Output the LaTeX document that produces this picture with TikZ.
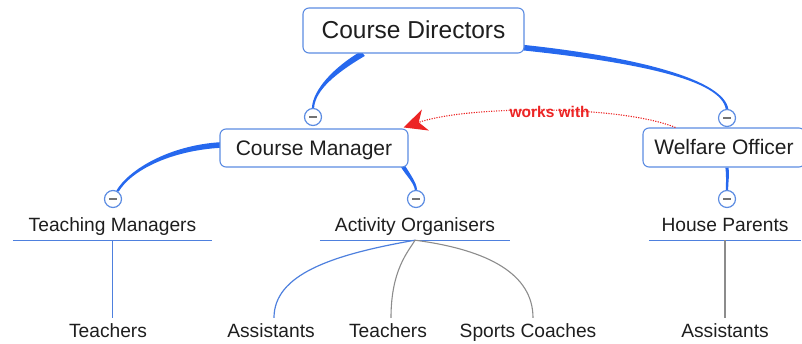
\documentclass[tikz,border=0pt]{standalone}
\usepackage{fontspec}
\setmainfont{Liberation Sans}
\usetikzlibrary{calc,arrows.meta}

\definecolor{branchblue}{RGB}{38,104,238}
\definecolor{boxblue}{RGB}{92,140,226}
\definecolor{lineblue}{RGB}{78,128,222}
\definecolor{leafgray}{RGB}{140,140,140}
\definecolor{relred}{RGB}{236,36,36}
\definecolor{inkc}{RGB}{30,30,30}

\pgfdeclarelayer{background}
\pgfsetlayers{background,main}

% tapered branch: #1 style, #2 start, #3/#4 controls, #5 end,
% #6 half-width offset at the start, #7 half-width offset at the end
\newcommand\taperedbranch[7]{%
  \fill[#1] ($(#2)+(#6)$) .. controls ($(#3)+(#6)$) and ($(#4)+(#7)$) .. ($(#5)+(#7)$)
    -- ($(#5)-(#7)$) .. controls ($(#4)-(#7)$) and ($(#3)-(#6)$) .. ($(#2)-(#6)$) -- cycle;}

\tikzset{
  topic/.style={draw=boxblue, line width=1.1pt, rounded corners=6pt, fill=white,
    inner sep=0pt, text=inkc, text depth=0pt},
  toggle/.style={circle, draw=boxblue, line width=1.2pt, fill=white, minimum size=17pt,
    inner sep=0pt,
    path picture={\draw[gray!90!black, line width=1.3pt]
      ([xshift=-3.8pt]path picture bounding box.center) --
      ([xshift=3.8pt]path picture bounding box.center);}},
  subtopic/.style={anchor=base, inner xsep=0pt, inner ysep=4pt, text height=14pt,
    text depth=4pt, text=inkc, font=\fontsize{19.2}{22}\selectfont},
  leaf/.style={anchor=base, inner xsep=1pt, inner ysep=5pt, text height=14pt,
    text depth=4pt, text=inkc, font=\fontsize{19.2}{22}\selectfont},
  branch/.style={fill=branchblue},
  uline/.style={draw=lineblue, line width=1.2pt},
  bluelink/.style={draw=lineblue, line width=1.2pt},
  graylink/.style={draw=leafgray, line width=1.1pt},
  relation/.style={draw=relred, line width=1.1pt, dash pattern=on 1.2pt off 1.3pt,
    -{Stealth[length=23pt, width=22pt, inset=7pt]}},
}

\begin{document}
\begin{tikzpicture}[x=1pt, y=-1pt]
\useasboundingbox (0,0) rectangle (802,344);

% main topics
\node[topic, minimum width=221pt, minimum height=45pt, text height=17pt,
      font=\fontsize{24.5}{28}\selectfont] (cd) at (413.5,30.5) {Course Directors};
\node[topic, minimum width=188pt, minimum height=38pt, text height=15pt,
      font=\fontsize{21}{25}\selectfont] (cm) at (314,148) {Course Manager};
\node[topic, minimum width=162pt, minimum height=39pt, text height=15pt,
      font=\fontsize{21}{25}\selectfont] (wo) at (724,147.5) {Welfare Officer};

% collapse toggles at the ends of the main branches
\node[toggle] (cmc) at (313,117) {};
\node[toggle] (woc) at (727,118) {};
\node[toggle] (tmc) at (113,199) {};
\node[toggle] (aoc) at (416,199) {};
\node[toggle] (hpc) at (727,199) {};

% branch start points on the topic boxes
\coordinate (cdA) at ($(cd.south)+(-50.5,0)$);
\coordinate (cdB) at ($(cd.south east)+(-2,-6)$);
\coordinate (cmA) at ($(cm.west)+(1,-3)$);
\coordinate (cmB) at ($(cm.south east)+(-6,-2)$);
\coordinate (woA) at (wo.south -| hpc);

% tapered branches, beneath the boxes and toggles
\begin{pgfonlayer}{background}
\taperedbranch{branch}{cdA}{335,70}{314,90}{cmc.north}{-1.8,-2.4}{-1.1,0}
\taperedbranch{branch}{cdB}{640,60}{722,80}{woc.north}{0,2.8}{-1.3,0}
\taperedbranch{branch}{cmA}{170,148}{130,170}{tmc.60}{0,-2.8}{-1.1,-0.6}
\taperedbranch{branch}{cmB}{408,175}{415,182}{aoc.north}{-2,0.8}{-1.1,0.3}
\taperedbranch{branch}{woA}{728,175}{727,183}{hpc.north}{-1.6,0}{-1.1,0}
\end{pgfonlayer}

% sub-topics with their underlines
\node[subtopic, minimum width=199pt] (tm) at (112.5,232) {Teaching Managers};
\node[subtopic, minimum width=190pt] (ao) at (415,232) {Activity Organisers};
\node[subtopic, minimum width=152pt] (hp) at (725,232) {House Parents};
\draw[uline] (tm.south west) -- (tm.south east);
\draw[uline] (ao.south west) -- (ao.south east);
\draw[uline] (hp.south west) -- (hp.south east);

% leaves
\node[leaf] (t1) at (108,337) {Teachers};
\node[leaf] (a1) at (271,337) {Assistants};
\node[leaf] (t2) at (388,337) {Teachers};
\node[leaf] (sc) at (528,337) {Sports Coaches};
\node[leaf] (a2) at (725,337) {Assistants};

\draw[bluelink] (tm.south) -- (tm.south |- t1.north);
\draw[bluelink] (ao.south) .. controls (330,255) and (274,275) .. ($(a1.north)+(3,0)$);
\draw[graylink] (ao.south) .. controls (408,252) and (391,270) .. ($(t2.north)+(3,0)$);
\draw[graylink] (ao.south) .. controls (490,250) and (533,275) .. ($(sc.north)+(5,0)$);
\draw[graylink] (hp.south) -- (hp.south |- a2.north);

% relationship between the two officers
\coordinate (relS) at ($(wo.north west)+(33,0)$);
\coordinate (relE) at ($(cm.north east)+(-5,-1)$);
\draw[relation] (relS) .. controls (620,105) and (470,105) .. (relE)
  node[pos=0.5, xshift=6pt, yshift=-1.8pt, text=relred, inner sep=0pt,
       text height=11pt, text depth=0pt,
       font=\bfseries\fontsize{15.5}{18}\selectfont] (rel) {works with};
\end{tikzpicture}
\end{document}
